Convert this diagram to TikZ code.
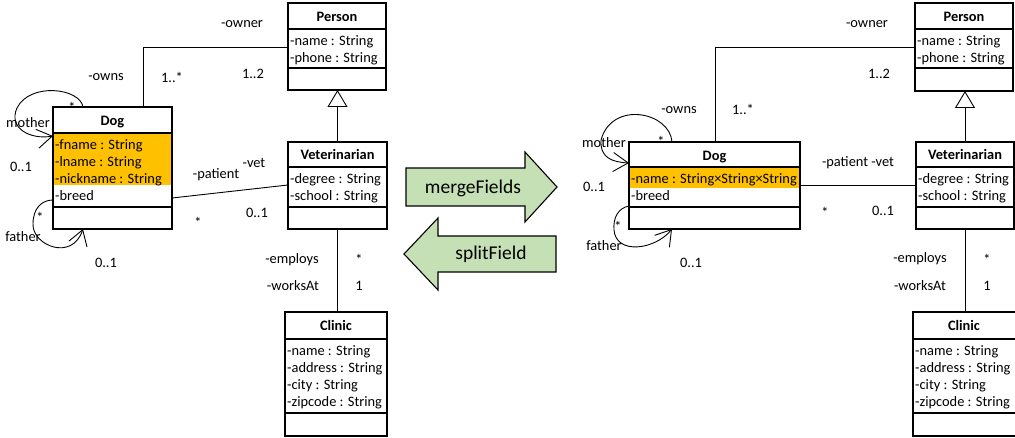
\documentclass[tikz,border=0pt]{standalone}
\usepackage{fontspec}
\setmainfont{Carlito}
\usetikzlibrary{arrows.meta}
\definecolor{hl}{RGB}{255,192,0}
\definecolor{grn}{RGB}{197,224,180}
\newcommand\umlf{\fontsize{14.4}{17}\selectfont}
\newcommand\bigf{\fontsize{19.5}{23}\selectfont}
\begin{document}
\begin{tikzpicture}[x=1pt,y=-1pt,
  cls/.style={draw, line width=1.1pt, anchor=north west, inner sep=0pt, outer sep=0pt},
  div/.style={line width=1.1pt},
  txt/.style={inner sep=0pt, font=\umlf, text height=11pt, text depth=0pt},
  attr/.style={txt, anchor=west},
  ttl/.style={txt, font=\umlf\bfseries},
  assoc/.style={line width=0.9pt},
  selfref/.style={line width=0.9pt, -{Straight Barb[length=15pt,width=19pt]}},
  gen/.style={line width=0.9pt, -{Triangle[open,length=17pt,width=20pt]}},
  block/.style={draw, line width=1.1pt, fill=grn, line join=miter},
  bigtxt/.style={inner sep=0pt, font=\bigf, text height=14pt, text depth=3pt},
]
\useasboundingbox (0,0) rectangle (1015,438);

% ================= LEFT DIAGRAM =================
% Person
\node[cls, minimum width=98pt, minimum height=87pt] (P1) at (288,3) {};
\draw[div] (288,29) -- (386,29);
\draw[div] (288,68) -- (386,68);
\node[ttl] (P1t) at (337,16) {Person};
\node[attr] (P1a) at (290,40) {-name : String};
\node[attr] (P1b) at (290,57) {-phone : String};

% Dog
\fill[hl] (53,133) rectangle (172,185);
\node[cls, minimum width=119pt, minimum height=122pt] (D1) at (53,107) {};
\draw[div] (53,133) -- (172,133);
\draw[div] (53,207) -- (172,207);
\node[ttl] (D1t) at (112.5,120) {Dog};
\node[attr] (D1a) at (55,144) {-fname : String};
\node[attr] (D1b) at (55,161) {-lname : String};
\node[attr] (D1c) at (55,178) {-nickname : String};
\node[attr] (D1d) at (55,195) {-breed};

% Veterinarian
\node[cls, minimum width=99pt, minimum height=87pt] (V1) at (288,142) {};
\draw[div] (288,167) -- (387,167);
\draw[div] (288,207) -- (387,207);
\node[ttl] (V1t) at (337.5,154.5) {Veterinarian};
\node[attr] (V1a) at (290,178) {-degree : String};
\node[attr] (V1b) at (290,195) {-school : String};

% Clinic
\node[cls, minimum width=102pt, minimum height=124pt] (C1) at (285,312) {};
\draw[div] (285,339) -- (387,339);
\draw[div] (285,413) -- (387,413);
\node[ttl] (C1t) at (336,325.5) {Clinic};
\node[attr] (C1a) at (287,350) {-name : String};
\node[attr] (C1b) at (287,367) {-address : String};
\node[attr] (C1c) at (287,384) {-city : String};
\node[attr] (C1d) at (287,401) {-zipcode : String};

% connectors
\draw[gen] (V1.north) -- (V1.north |- P1.south);
\draw[assoc] (V1.south) -- (V1.south |- C1.north);
\draw[assoc] ([xshift=90pt]D1.north west) |- ([yshift=-44pt]P1.north west);
\draw[assoc] ([yshift=-91pt]D1.north east) -- ([yshift=-43pt]V1.north west);
\draw[selfref] ([xshift=30pt]D1.north west) .. controls (80,88) and (30,82) .. (17,108)
   .. controls (8,128) and (30,140) .. ([yshift=-29pt]D1.north west);
\draw[selfref] ([yshift=-93pt]D1.north west) .. controls (42,200) and (33,208) .. (33,224)
   .. controls (32,245) and (72,262) .. ([xshift=30pt]D1.south west);

% labels
\node[txt] (l1) at (242,22) {-owner};
\node[txt] (l2) at (106,75) {-owns};
\node[txt] (l3) at (172,77) {1..*};
\node[txt] (l4) at (253,73) {1..2};
\node[txt] (l5) at (28,122) {mother};
\node[txt] (l6) at (72,107) {*};
\node[txt] (l7) at (21,166) {0..1};
\node[txt] (l8) at (216,173) {-patient};
\node[txt] (l9) at (254,162) {-vet};
\node[txt] (l10) at (257,212) {0..1};
\node[txt] (l11) at (198,222) {*};
\node[txt] (l12) at (40,217) {*};
\node[txt] (l13) at (23,236) {father};
\node[txt] (l14) at (106,262) {0..1};
\node[txt] (l15) at (292,258) {-employs};
\node[txt] (l16) at (359,259) {*};
\node[txt] (l17) at (293,285) {-worksAt};
\node[txt] (l18) at (359,285) {1};

% ================= BLOCK ARROWS =================
\draw[block] (406,168) -- (525,168) -- (525,152) -- (557,187) -- (525,222) -- (525,206) -- (406,206) -- cycle;
\node[bigtxt] (mf) at (473,188) {mergeFields};
\draw[block] (556,236) -- (438,236) -- (438,218) -- (404,254) -- (438,290) -- (438,272) -- (556,272) -- cycle;
\node[bigtxt] (sf) at (491,254) {splitField};

% ================= RIGHT DIAGRAM =================
% Person
\node[cls, minimum width=98pt, minimum height=88pt] (P2) at (915,3) {};
\draw[div] (915,29) -- (1013,29);
\draw[div] (915,68) -- (1013,68);
\node[ttl] (P2t) at (964,16) {Person};
\node[attr] (P2a) at (917,40) {-name : String};
\node[attr] (P2b) at (917,57) {-phone : String};

% Dog
\fill[hl] (629,167) rectangle (800,188);
\node[cls, minimum width=171pt, minimum height=87pt] (D2) at (629,142) {};
\draw[div] (629,167) -- (800,167);
\draw[div] (629,207) -- (800,207);
\node[ttl] (D2t) at (714.5,155) {Dog};
\node[attr] (D2a) at (631,178) {-name : String×String×String};
\node[attr] (D2b) at (631,195) {-breed};

% Veterinarian
\node[cls, minimum width=98pt, minimum height=87pt] (V2) at (916,142) {};
\draw[div] (916,167) -- (1014,167);
\draw[div] (916,207) -- (1014,207);
\node[ttl] (V2t) at (965,154.5) {Veterinarian};
\node[attr] (V2a) at (918,178) {-degree : String};
\node[attr] (V2b) at (918,195) {-school : String};

% Clinic
\node[cls, minimum width=104pt, minimum height=124pt] (C2) at (913,312) {};
\draw[div] (913,339) -- (1017,339);
\draw[div] (913,413) -- (1017,413);
\node[ttl] (C2t) at (964,325.5) {Clinic};
\node[attr] (C2a) at (915,350) {-name : String};
\node[attr] (C2b) at (915,367) {-address : String};
\node[attr] (C2c) at (915,384) {-city : String};
\node[attr] (C2d) at (915,401) {-zipcode : String};

% connectors
\draw[gen] (V2.north) -- (V2.north |- P2.south);
\draw[assoc] (V2.south) -- (V2.south |- C2.north);
\draw[assoc] ([xshift=86pt]D2.north west) |- ([yshift=-44pt]P2.north west);
\draw[assoc] ([yshift=-43pt]D2.north east) -- ([yshift=-43pt]V2.north west);
\draw[selfref] ([xshift=43pt]D2.north west) .. controls (670,112) and (612,100) .. (601,140)
   .. controls (600,158) and (612,162) .. ([yshift=-21pt]D2.north west);
\draw[selfref] ([yshift=-64pt]D2.north west) .. controls (618,208) and (613,218) .. (614,230)
   .. controls (616,255) and (655,250) .. ([xshift=43pt]D2.south west);

% labels
\node[txt] (r1) at (867,22) {-owner};
\node[txt] (r2) at (879,73) {1..2};
\node[txt] (r3) at (679,108) {-owns};
\node[txt] (r4) at (743,109) {1..*};
\node[txt] (r5) at (604,142) {mother};
\node[txt] (r6) at (661,141) {*};
\node[txt] (r7) at (594,186) {0..1};
\node[txt] (r8) at (858,161) {-patient -vet};
\node[txt] (r9) at (825,212) {*};
\node[txt] (r10) at (883,210) {0..1};
\node[txt] (r11) at (618,226) {*};
\node[txt] (r12) at (604,245) {father};
\node[txt] (r13) at (691,262) {0..1};
\node[txt] (r14) at (920,257) {-employs};
\node[txt] (r15) at (987,259) {*};
\node[txt] (r16) at (920,285) {-worksAt};
\node[txt] (r17) at (987,285) {1};
\end{tikzpicture}
\end{document}
